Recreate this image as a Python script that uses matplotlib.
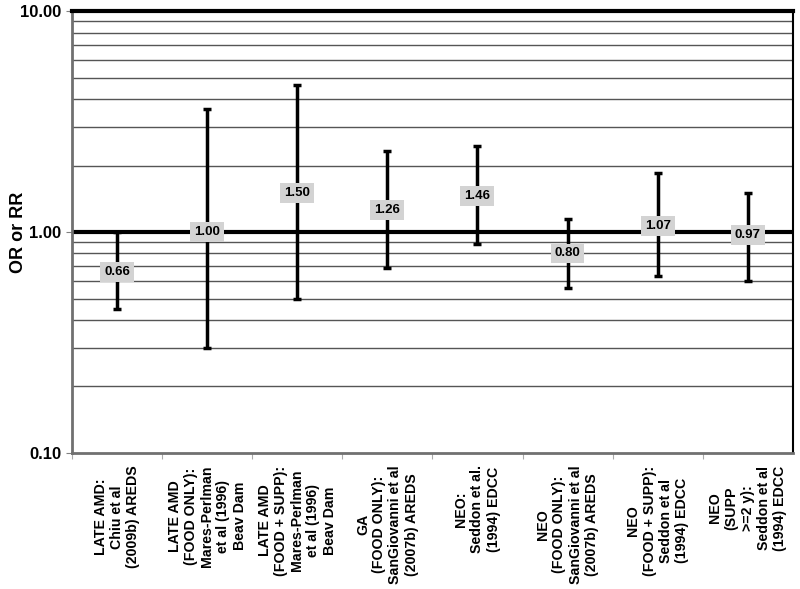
import matplotlib.pyplot as plt
from matplotlib.ticker import FixedLocator, NullFormatter

plt.rcParams['font.family'] = ['Liberation Sans', 'DejaVu Sans']

categories = [
    "LATE AMD:\nChiu et al\n(2009b) AREDS",
    "LATE AMD\n(FOOD ONLY):\nMares-Perlman\net al (1996)\nBeav Dam",
    "LATE AMD\n(FOOD + SUPP):\nMares-Perlman\net al (1996)\nBeav Dam",
    "GA\n(FOOD ONLY):\nSanGiovanni et al\n(2007b) AREDS",
    "NEO:\nSeddon et al.\n(1994) EDCC",
    "NEO\n(FOOD ONLY):\nSanGiovanni et al\n(2007b) AREDS",
    "NEO\n(FOOD + SUPP):\nSeddon et al\n(1994) EDCC",
    "NEO\n(SUPP\n>=2 y):\nSeddon et al\n(1994) EDCC",
]
estimate = [0.66, 1.00, 1.50, 1.26, 1.46, 0.80, 1.07, 0.97]
lower = [0.45, 0.30, 0.50, 0.69, 0.88, 0.56, 0.63, 0.60]
upper = [1.00, 3.60, 4.61, 2.33, 2.45, 1.15, 1.85, 1.51]

fig = plt.figure(figsize=(8, 5.89), dpi=100)
ax = fig.add_axes([0.09, 0.231, 0.901, 0.75])
ax.set_yscale('log')
ax.set_ylim(0.1, 10)
x = list(range(len(categories)))
ax.set_xlim(-0.5, len(categories) - 0.5)

# grid lines
minor = [i / 10 for i in range(2, 10)] + list(range(2, 10))
for v in minor:
    ax.axhline(v, color='#555555', lw=1, zorder=1)
ax.axhline(1, color='black', lw=3, zorder=2)

yerr = [[e - l for e, l in zip(estimate, lower)],
        [u - e for e, u in zip(estimate, upper)]]
ax.errorbar(x, estimate, yerr=yerr, fmt='none', ecolor='black',
            elinewidth=2.5, capsize=3, capthick=2.5, zorder=3)
for xi, e in zip(x, estimate):
    ax.text(xi, e, f"{e:.2f}", ha='center', va='center', fontsize=9.5,
            fontweight='bold', zorder=4,
            bbox=dict(boxstyle='square,pad=0.3', fc='#d3d3d3', ec='none'))

ax.yaxis.set_major_locator(FixedLocator([0.1, 1, 10]))
ax.yaxis.set_major_formatter(plt.FuncFormatter(lambda v, p: f"{v:.2f}"))
ax.yaxis.set_minor_locator(FixedLocator([]))
ax.yaxis.set_minor_formatter(NullFormatter())
ax.tick_params(axis='y', labelsize=12, length=4, color='#808080')
for lab in ax.get_yticklabels():
    lab.set_fontweight('bold')
ax.set_ylabel("OR or RR", fontsize=13, fontweight='bold')
ax.yaxis.set_label_coords(-0.062, 0.5)

ax.set_xticks([i + 0.5 for i in x[:-1]] + [-0.5])
ax.set_xticklabels([])
ax.tick_params(axis='x', length=4, color='#aaaaaa')
for xi, c in zip(x, categories):
    ax.annotate(c, xy=(xi, 0), xycoords=('data', 'axes fraction'),
                xytext=(0, -9), textcoords='offset points',
                rotation=90, ha='center', va='top', multialignment='center',
                fontsize=10.2, fontweight='bold', linespacing=1.2)

ax.spines['top'].set_linewidth(3)
ax.spines['top'].set_color('black')
ax.spines['right'].set_linewidth(1.5)
ax.spines['left'].set_linewidth(2)
ax.spines['left'].set_color('#707070')
ax.spines['bottom'].set_linewidth(2)
ax.spines['bottom'].set_color('#707070')

fig.savefig('out.png', dpi=100)
